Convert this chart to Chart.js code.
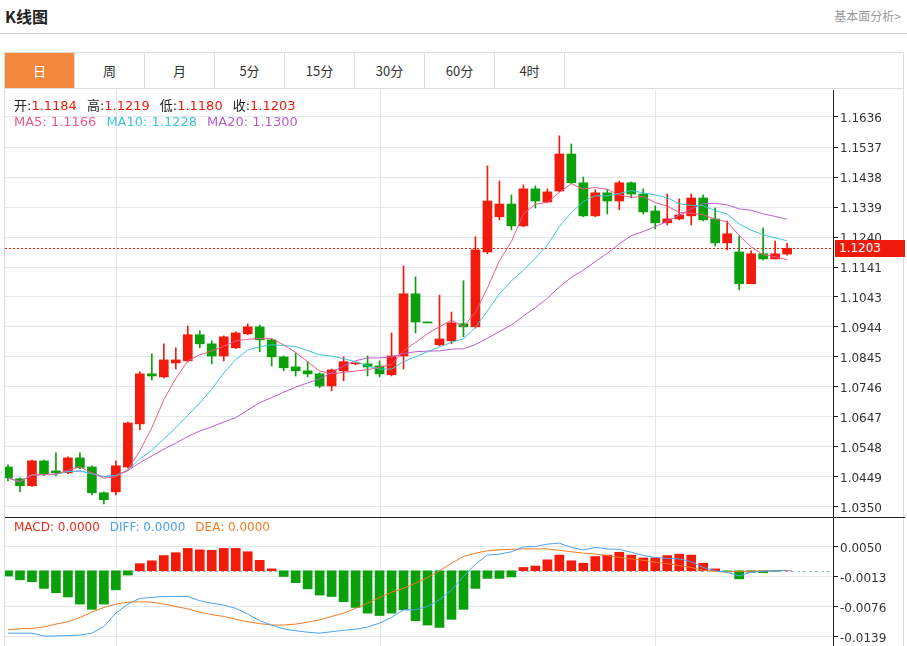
<!DOCTYPE html>
<html>
<head>
<meta charset="utf-8">
<script src="https://cdn.jsdelivr.net/npm/chart.js@4/dist/chart.umd.min.js"></script>
<style>
	body { margin: 0; width: 907px; height: 646px; background: #fff; font-family: "Noto Sans CJK SC", "DejaVu Sans", sans-serif; overflow: hidden; position: relative; }
	.title { position: absolute; left: 5px; top: 4px; font-size: 16px; font-weight: bold; color: #222; }
	.more { position: absolute; right: 6px; top: 7px; font-size: 12px; color: #999; }
	.hr { position: absolute; left: 0; top: 33px; width: 907px; height: 1px; background: #ccc; }
	.box { position: absolute; left: 4px; top: 52px; width: 900px; height: 600px; border: 1px solid #ddd; box-sizing: border-box; }
	.tabs { position: absolute; left: 5px; top: 53px; width: 899px; height: 35px; border-bottom: 1px solid #ddd; }
	.tab { position: absolute; top: 0; height: 35px; width: 70px; line-height: 35px; text-align: center; font-size: 13px; color: #333; border-right: 1px solid #ddd; box-sizing: border-box; }
	.tab.on { background: #f4883e; color: #fff; }
	.legend { position: absolute; font-size: 13px; white-space: nowrap; font-family: "DejaVu Sans", "Noto Sans CJK SC", sans-serif; }
	.legend span { margin-right: 10px; }
	#main { position: absolute; left: 5px; top: 90px; }
	#macd { position: absolute; left: 5px; top: 517px; }
	.price { position: absolute; left: 835px; top: 240px; width: 70px; height: 17px; background: #f01a0a; color: #fff; font-size: 12px; line-height: 17px; padding-left: 4px; box-sizing: border-box; font-family: "DejaVu Sans", sans-serif; }
</style>
</head>
<body>
<div class="title">K线图</div>
<div class="more">基本面分析&gt;</div>
<div class="hr"></div>
<div class="box"></div>
<div class="tabs" id="tabs"></div>
<canvas id="main" width="900" height="427"></canvas>
<canvas id="macd" width="900" height="129"></canvas>
<div class="legend" style="left:14px;top:95px;color:#222">开:<span style="color:#f01a0a">1.1184</span>高:<span style="color:#f01a0a">1.1219</span>低:<span style="color:#f01a0a">1.1180</span>收:<span style="color:#f01a0a">1.1203</span></div>
<div class="legend" style="left:14px;top:114px"><span style="color:#ee5a8c">MA5: 1.1166</span><span style="color:#3cc6da">MA10: 1.1228</span><span style="color:#b65fcc">MA20: 1.1300</span></div>
<div class="legend" style="left:14px;top:520px;font-size:12px"><span style="color:#f02a1a">MACD: 0.0000</span><span style="color:#4aa3f0">DIFF: 0.0000</span><span style="color:#f07b22">DEA: 0.0000</span></div>
<div class="price">1.1203</div>
<script>
var TABS = ['日', '周', '月', '5分', '15分', '30分', '60分', '4时'];

// Daily candles
var OPEN  = [1.0482,1.0443,1.0420,1.0502,1.0469,1.0463,1.0512,1.0482,1.0397,1.0400,1.0482,1.0624,1.0789,1.0779,1.0825,1.0832,1.0918,1.0888,1.0848,1.0875,1.0921,1.0944,1.0901,1.0845,1.0812,1.0799,1.0789,1.0749,1.0799,1.0822,1.0822,1.0815,1.0786,1.0848,1.1053,1.0960,1.0885,1.0898,1.0954,1.0944,1.1191,1.1307,1.1349,1.1277,1.1399,1.1356,1.1392,1.1514,1.1419,1.1310,1.1386,1.1359,1.1419,1.1382,1.1326,1.1287,1.1300,1.1310,1.1369,1.1300,1.1221,1.1191,1.1086,1.1185,1.1168,1.1184];
var HIGH  = [1.0489,1.0446,1.0505,1.0505,1.0529,1.0515,1.0529,1.0486,1.0400,1.0502,1.0630,1.0796,1.0855,1.0888,1.0875,1.0947,1.0931,1.0898,1.0914,1.0928,1.0954,1.0950,1.0905,1.0848,1.0858,1.0829,1.0792,1.0805,1.0845,1.0825,1.0848,1.0832,1.0924,1.1145,1.1109,1.0960,1.1049,1.0993,1.1096,1.1241,1.1475,1.1425,1.1379,1.1412,1.1409,1.1399,1.1574,1.1547,1.1438,1.1396,1.1396,1.1425,1.1422,1.1399,1.1343,1.1382,1.1366,1.1382,1.1379,1.1336,1.1293,1.1244,1.1195,1.1270,1.1227,1.1219];
var LOW   = [1.0436,1.0400,1.0418,1.0453,1.0453,1.0460,1.0476,1.0390,1.0360,1.0390,1.0479,1.0604,1.0769,1.0775,1.0805,1.0828,1.0875,1.0822,1.0832,1.0872,1.0918,1.0862,1.0815,1.0799,1.0782,1.0779,1.0743,1.0733,1.0766,1.0819,1.0782,1.0779,1.0782,1.0805,1.0924,1.0957,1.0881,1.0888,1.0911,1.0940,1.1185,1.1297,1.1264,1.1274,1.1336,1.1353,1.1389,1.1416,1.1307,1.1307,1.1316,1.1330,1.1369,1.1316,1.1267,1.1280,1.1297,1.1280,1.1293,1.1211,1.1198,1.1066,1.1086,1.1165,1.1168,1.1180];
var CLOSE = [1.0446,1.0420,1.0502,1.0459,1.0463,1.0512,1.0479,1.0397,1.0374,1.0486,1.0627,1.0789,1.0782,1.0835,1.0835,1.0918,1.0888,1.0848,1.0911,1.0924,1.0944,1.0901,1.0845,1.0809,1.0799,1.0789,1.0749,1.0802,1.0829,1.0822,1.0812,1.0789,1.0848,1.1053,1.0960,1.0957,1.0904,1.0957,1.0944,1.1198,1.1359,1.1349,1.1277,1.1399,1.1359,1.1389,1.1514,1.1419,1.1310,1.1386,1.1359,1.1419,1.1382,1.1323,1.1287,1.1300,1.1313,1.1369,1.1297,1.1221,1.1251,1.1086,1.1185,1.1168,1.1185,1.1203];

// MACD pane
var MACD_HIST = [-0.0011,-0.0019,-0.0023,-0.0037,-0.0046,-0.0055,-0.0070,-0.0081,-0.0070,-0.0040,-0.0009,0.0015,0.0021,0.0032,0.0038,0.0047,0.0044,0.0043,0.0047,0.0047,0.0040,0.0022,0.0004,-0.0012,-0.0025,-0.0038,-0.0051,-0.0054,-0.0065,-0.0077,-0.0089,-0.0094,-0.0089,-0.0082,-0.0105,-0.0114,-0.0119,-0.0102,-0.0081,-0.0037,-0.0016,-0.0016,-0.0013,0.0007,0.0010,0.0023,0.0033,0.0021,0.0016,0.0030,0.0033,0.0039,0.0033,0.0027,0.0027,0.0032,0.0035,0.0033,0.0016,0.0004,-0.0001,-0.0017,-0.0003,-0.0004,-0.0001,0.0000];
var DIFF = [-0.0131,-0.0131,-0.0131,-0.0137,-0.0137,-0.0136,-0.0135,-0.0131,-0.0117,-0.0089,-0.0070,-0.0058,-0.0056,-0.0054,-0.0054,-0.0054,-0.0063,-0.0068,-0.0072,-0.0079,-0.0091,-0.0105,-0.0114,-0.0122,-0.0126,-0.0129,-0.0131,-0.0128,-0.0125,-0.0123,-0.0118,-0.0110,-0.0098,-0.0082,-0.0082,-0.0075,-0.0061,-0.0040,-0.0012,0.0014,0.0033,0.0035,0.0040,0.0050,0.0051,0.0056,0.0058,0.0049,0.0044,0.0049,0.0046,0.0045,0.0039,0.0032,0.0028,0.0026,0.0025,0.0019,0.0007,0.0000,-0.0003,-0.0011,-0.0003,-0.0001,0.0000,0.0001];
var DEA = [-0.0124,-0.0122,-0.0121,-0.0118,-0.0112,-0.0107,-0.0098,-0.0087,-0.0077,-0.0070,-0.0066,-0.0065,-0.0066,-0.0070,-0.0075,-0.0080,-0.0087,-0.0092,-0.0096,-0.0102,-0.0107,-0.0111,-0.0114,-0.0114,-0.0112,-0.0108,-0.0103,-0.0096,-0.0089,-0.0079,-0.0068,-0.0056,-0.0045,-0.0037,-0.0026,-0.0014,0.0000,0.0016,0.0030,0.0037,0.0042,0.0044,0.0045,0.0046,0.0046,0.0046,0.0043,0.0040,0.0037,0.0035,0.0032,0.0028,0.0025,0.0022,0.0018,0.0015,0.0011,0.0007,0.0001,-0.0001,-0.0003,-0.0001,-0.0001,0.0000,0.0000,0.0001];

var PRICE_TICKS = [1.1636,1.1537,1.1438,1.1339,1.1240,1.1141,1.1043,1.0944,1.0845,1.0746,1.0647,1.0548,1.0449,1.0350];
var MACD_TICKS = [0.0050,-0.0013,-0.0076,-0.0139];
var MONTH_STARTS = [9, 31, 54]; // vertical grid lines
var LAST_PRICE = 1.1203;

var RED = '#f21a0a', GREEN = '#0aa00a', GRID = '#e3e8ee';

// tabs
var tabsHtml = '';
TABS.forEach(function (t, i) {
	tabsHtml += '<div class="tab' + (i === 0 ? ' on' : '') + '" style="left:' + (i * 70) + 'px">' + t + '</div>';
});
document.getElementById('tabs').innerHTML = tabsHtml;

// moving average over available closes
function ma(n) {
	return CLOSE.map(function (v, i) {
		var s = 0, c = 0;
		for (var k = Math.max(0, i - n + 1); k <= i; k++) { s += CLOSE[k]; c++; }
		return { x: i, y: s / c };
	});
}

var idx = CLOSE.map(function (v, i) { return i; });
var candleColor = idx.map(function (i) { return CLOSE[i] >= OPEN[i] ? RED : GREEN; });
var bodies = idx.map(function (i) { return { x: i, y: [OPEN[i], CLOSE[i]] }; });
var wicks = idx.map(function (i) { return { x: i, y: [LOW[i], HIGH[i]] }; });

Chart.defaults.font.family = '"DejaVu Sans", sans-serif';
Chart.defaults.font.size = 11;
Chart.defaults.color = '#333';

function xScale() {
	return { type: 'linear', min: -0.25, max: 68.83, offset: false, display: false };
}

function rightAxis(ticks, min, max) {
	return {
		position: 'right', min: min, max: max,
		afterBuildTicks: function (s) { s.ticks = ticks.map(function (v) { return { value: v }; }); },
		afterFit: function (s) { s.width = 72; s.paddingTop = 0; s.paddingBottom = 0; },
		border: { color: '#222', width: 1 },
		grid: { color: GRID, drawTicks: true, tickLength: 5, tickColor: '#222' },
		ticks: { padding: 2, labelOffset: 2, color: '#333', font: { size: 12 }, callback: function (v) { return v.toFixed(4); } }
	};
}

// vertical grid + horizontal reference line
function overlay(refValue, refColor, dash, refEnd) {
	return {
		id: 'overlay',
		beforeDatasetsDraw: function (chart) {
			var ctx = chart.ctx, a = chart.chartArea, x = chart.scales.x, y = chart.scales.y;
			ctx.save();
			ctx.lineWidth = 1;
			ctx.strokeStyle = GRID;
			MONTH_STARTS.forEach(function (i) {
				var px = Math.round(x.getPixelForValue(i)) + 0.5;
				ctx.beginPath(); ctx.moveTo(px, a.top); ctx.lineTo(px, a.bottom); ctx.stroke();
			});
			var py = Math.round(y.getPixelForValue(refValue)) + 0.5;
			ctx.strokeStyle = refColor;
			ctx.setLineDash(dash);
			ctx.beginPath(); ctx.moveTo(a.left, py); ctx.lineTo(refEnd ? x.getPixelForValue(refEnd) : a.right, py); ctx.stroke();
			ctx.restore();
		}
	};
}

new Chart(document.getElementById('main'), {
	type: 'bar',
	data: {
		datasets: [
			{ type: 'line', data: ma(5), borderColor: '#ee5a8c', borderWidth: 1, pointRadius: 0, tension: 0, order: -1 },
			{ type: 'line', data: ma(10), borderColor: '#3cc6da', borderWidth: 1, pointRadius: 0, tension: 0, order: -1 },
			{ type: 'line', data: ma(20), borderColor: '#b65fcc', borderWidth: 1, pointRadius: 0, tension: 0, order: -1 },
			{ data: bodies, backgroundColor: candleColor, barThickness: 9, grouped: false, minBarLength: 1, order: 0 },
			{ data: wicks, backgroundColor: candleColor, barThickness: 1, grouped: false, order: 1 }
		]
	},
	options: {
		responsive: false, animation: false, devicePixelRatio: 1,
		layout: { padding: 0 },
		plugins: { legend: { display: false }, tooltip: { enabled: false } },
		scales: { x: xScale(), y: rightAxis(PRICE_TICKS, 1.0317, 1.1725) }
	},
	plugins: [overlay(LAST_PRICE, '#f01a0a', [2, 2])]
});

new Chart(document.getElementById('macd'), {
	type: 'bar',
	data: {
		datasets: [
			{ type: 'line', data: idx.map(function (i) { return { x: i, y: DIFF[i] }; }), borderColor: '#4aa3f0', borderWidth: 1, pointRadius: 0, order: -1 },
			{ type: 'line', data: idx.map(function (i) { return { x: i, y: DEA[i] }; }), borderColor: '#f07b22', borderWidth: 1, pointRadius: 0, order: -1 },
			{ data: idx.map(function (i) { return { x: i, y: [0, MACD_HIST[i]] }; }),
			  backgroundColor: MACD_HIST.map(function (v) { return v >= 0 ? RED : GREEN; }), barThickness: 9, grouped: false }
		]
	},
	options: {
		responsive: false, animation: false, devicePixelRatio: 1,
		layout: { padding: 0 },
		plugins: { legend: { display: false }, tooltip: { enabled: false } },
		scales: { x: xScale(), y: rightAxis(MACD_TICKS, -0.0158, 0.0113) }
	},
	plugins: [overlay(0, '#9cc8e8', [3, 3], 68.6), {
		id: 'topBorder',
		afterDraw: function (chart) {
			var ctx = chart.ctx;
			ctx.save(); ctx.fillStyle = '#222'; ctx.fillRect(0, 0, chart.width, 1); ctx.restore();
		}
	}]
});
</script>
</body>
</html>
